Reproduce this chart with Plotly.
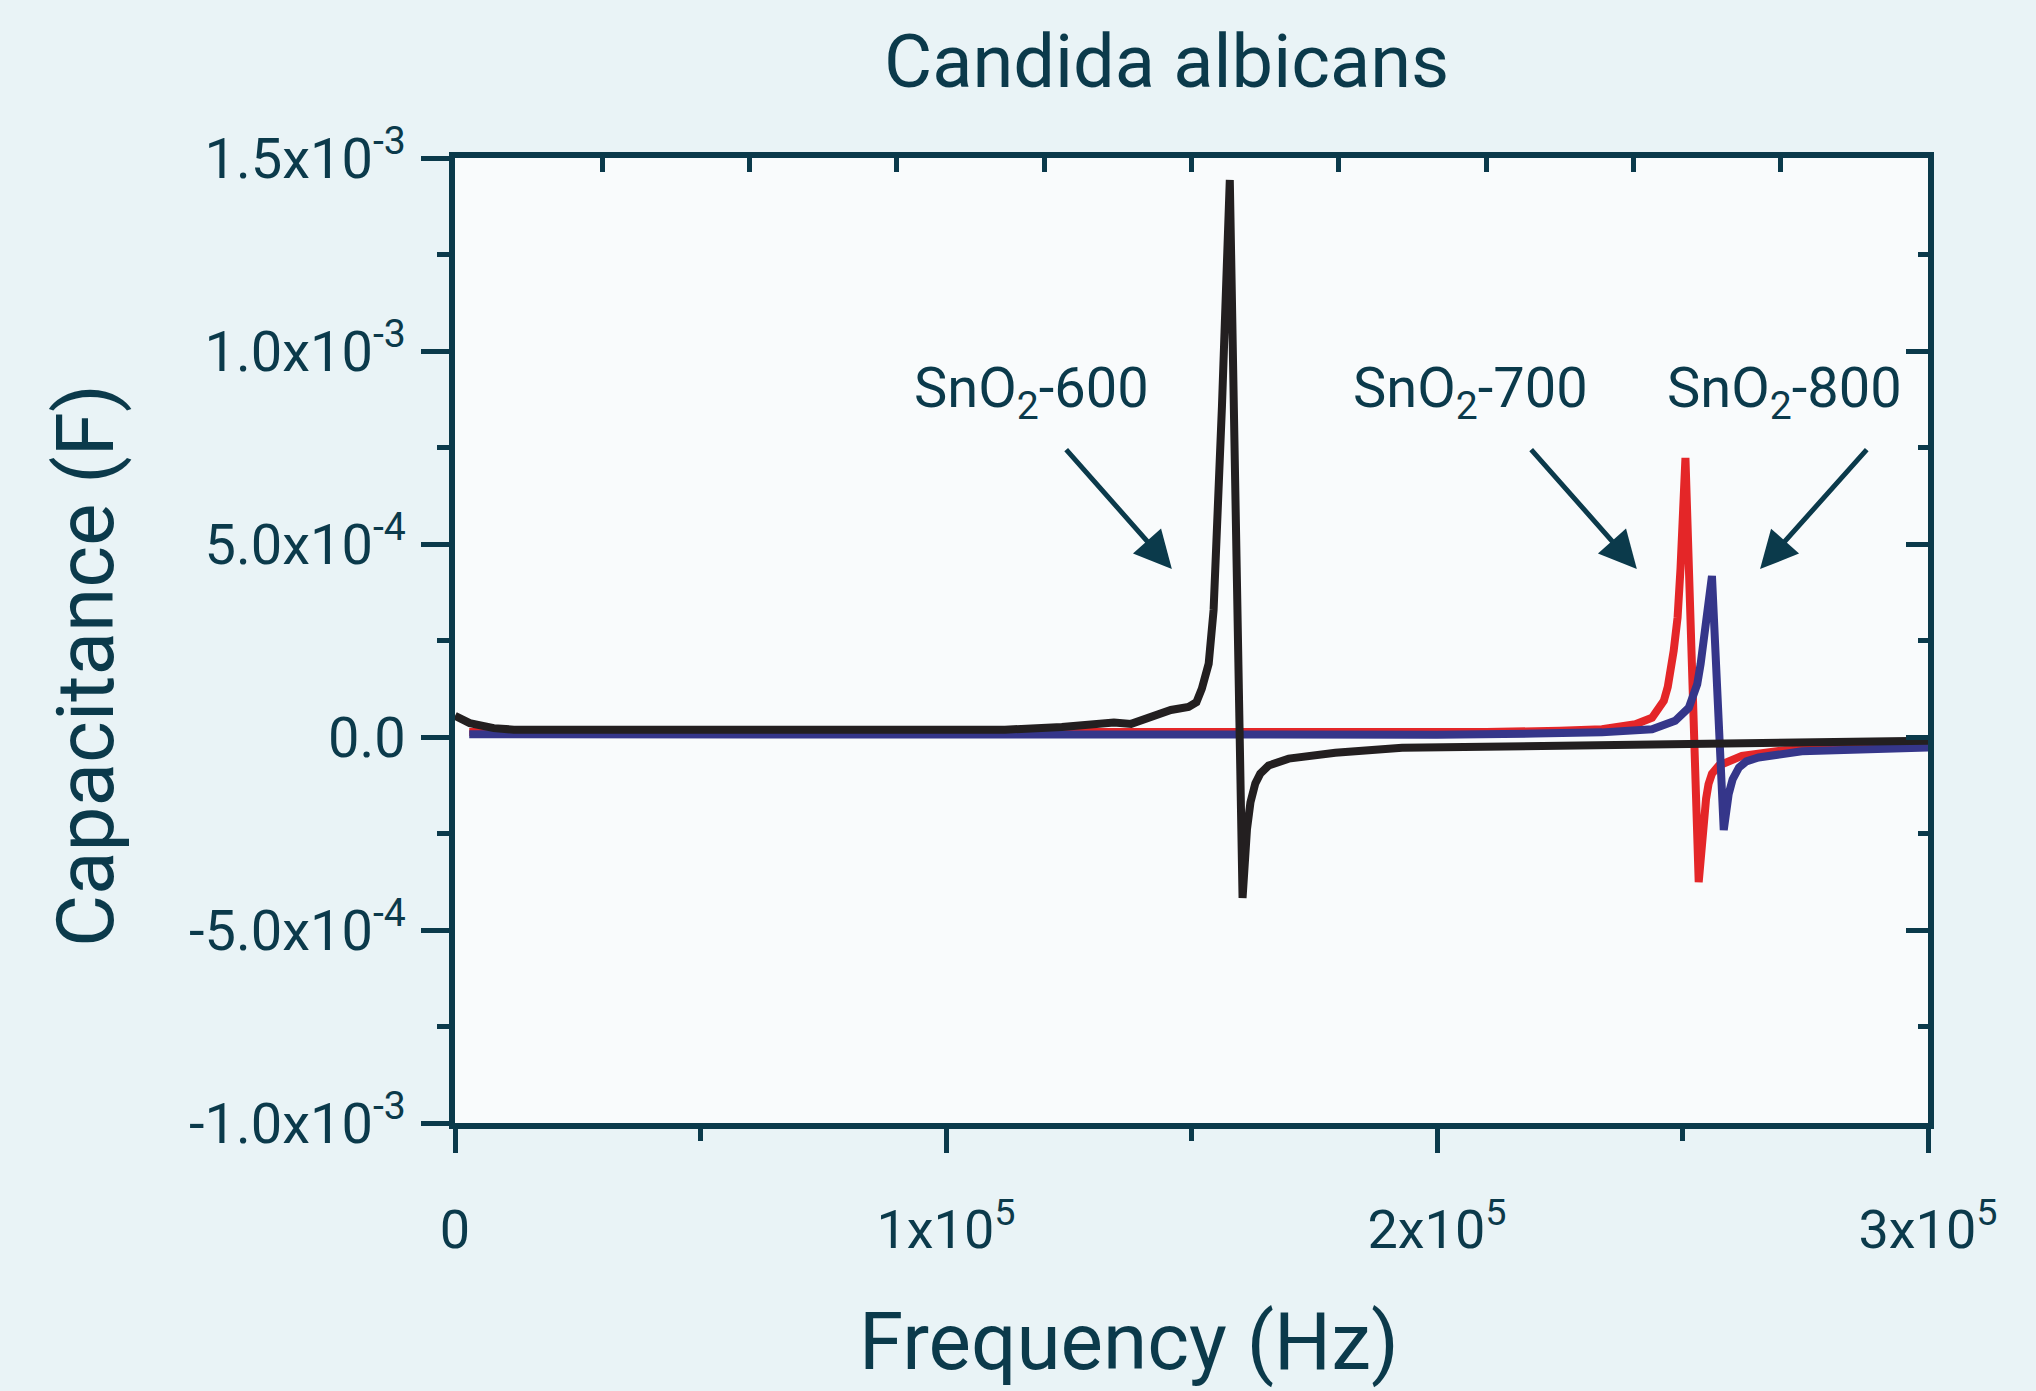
import plotly.graph_objects as go

# ---------------- data ----------------
black_x = [0, 3e3, 7.9e3, 1.2e4, 5e4, 1e5, 1.12e5, 1.236e5, 1.342e5, 1.377e5, 1.411e5,
           1.458e5, 1.494e5, 1.51e5, 1.521e5, 1.535e5, 1.545e5, 1.555e5, 1.562e5,
           1.571e5, 1.578e5, 1.604e5, 1.608e5, 1.613e5, 1.62e5, 1.63e5, 1.64e5, 1.657e5,
           1.698e5, 1.793e5, 1.929e5, 2.1e5, 2.336e5, 2.6e5, 2.8e5, 3.0e5]
black_y = [5.5e-5, 3.6e-5, 2.3e-5, 1.9e-5, 1.86e-5, 1.86e-5, 1.9e-5, 2.6e-5, 3.75e-5, 3.4e-5, 5.0e-5,
           7.0e-5, 7.8e-5, 9.0e-5, 1.25e-4, 1.9e-4, 3.29e-4, 5.93e-4, 8.56e-4,
           1.186e-3, 1.443e-3, -4.17e-4, -3.3e-4, -2.39e-4, -1.7e-4, -1.2e-4, -9.5e-5, -7.4e-5,
           -5.6e-5, -4.1e-5, -2.8e-5, -2.5e-5, -2.3e-5, -1.8e-5, -1.4e-5, -1.0e-5]

red_x = [2.9e3, 5e4, 1e5, 1.5e5, 1.9e5, 2.1e5, 2.25e5, 2.336e5, 2.404e5, 2.438e5, 2.462e5,
         2.47e5, 2.482e5, 2.49e5, 2.496e5, 2.502e5, 2.506e5, 2.533e5, 2.538e5, 2.543e5,
         2.548e5, 2.553e5, 2.56e5, 2.574e5, 2.621e5, 2.709e5, 2.85e5, 3.0e5]
red_y = [1.3e-5, 1.2e-5, 1.1e-5, 1.0e-5, 1.1e-5, 1.3e-5, 1.6e-5, 2.0e-5, 3.3e-5, 5.0e-5, 9.4e-5,
         1.3e-4, 2.23e-4, 3.1e-4, 4.38e-4, 5.8e-4, 7.23e-4, -3.76e-4, -2.9e-4, -2.08e-4,
         -1.6e-4, -1.22e-4, -9.5e-5, -7.4e-5, -4.9e-5, -3.4e-5, -2.7e-5, -2.3e-5]

blue_x = [2.9e3, 5e4, 1e5, 1.5e5, 2e5, 2.2e5, 2.336e5, 2.438e5, 2.485e5, 2.513e5, 2.52e5,
          2.53e5, 2.537e5, 2.543e5, 2.55e5, 2.56e5, 2.584e5, 2.589e5, 2.594e5, 2.602e5,
          2.615e5, 2.63e5, 2.655e5, 2.743e5, 2.87e5, 3.0e5]
blue_y = [7e-6, 6e-6, 6e-6, 5e-6, 6e-6, 9e-6, 1.2e-5, 2.0e-5, 4.2e-5, 7.6e-5, 1.0e-4,
          1.37e-4, 1.9e-4, 2.49e-4, 3.3e-4, 4.17e-4, -2.41e-4, -1.9e-4, -1.48e-4, -1.1e-4,
          -7.9e-5, -6.3e-5, -5.3e-5, -3.7e-5, -3.0e-5, -2.7e-5]

x_tickvals = [0, 1e5, 2e5, 3e5]
x_ticktext = ["0", "1x10<sup>5</sup>", "2x10<sup>5</sup>", "3x10<sup>5</sup>"]
y_tickvals = [-1e-3, -5e-4, 0, 5e-4, 1e-3, 1.5e-3]
y_ticktext = ["-1.0x10<sup>-3</sup>", "-5.0x10<sup>-4</sup>", "0.0",
              "5.0x10<sup>-4</sup>", "1.0x10<sup>-3</sup>", "1.5x10<sup>-3</sup>"]
top_tickvals = [3e4, 6e4, 9e4, 1.2e5, 1.5e5, 1.8e5, 2.1e5, 2.4e5, 2.7e5]

labels = ["SnO<sub>2</sub>-600", "SnO<sub>2</sub>-700", "SnO<sub>2</sub>-800"]
label_x = [1.175e5, 2.069e5, 2.707e5]
label_y = [8.95e-4, 8.95e-4, 8.95e-4]
arrow_x = [1.460e5, 2.407e5, 2.658e5]
arrow_y = [4.35e-4, 4.35e-4, 4.35e-4]
arrow_dx = [-107, -107, 108]
arrow_dy = [-121, -121, -121]

# ---------------- style ----------------
INK = "#0b3a4b"
FONT = "Roboto"
PAPER = "#e9f3f6"

fig = go.Figure()
fig.add_trace(go.Scatter(x=red_x, y=red_y, mode="lines", line=dict(color="#e42628", width=8),
                         showlegend=False))
fig.add_trace(go.Scatter(x=blue_x, y=blue_y, mode="lines", line=dict(color="#35368a", width=8),
                         showlegend=False))
fig.add_trace(go.Scatter(x=black_x, y=black_y, mode="lines", line=dict(color="#231f20", width=8),
                         showlegend=False))
# helper trace for the mirrored top/right axes
fig.add_trace(go.Scatter(x=[], y=[], xaxis="x2", yaxis="y2", showlegend=False))

annotations = []
for t, x, y in zip(labels, label_x, label_y):
    annotations.append(dict(x=x, y=y, xref="x", yref="y", text=t, showarrow=False,
                            font=dict(family=FONT, size=56, color=INK),
                            xanchor="center", yanchor="middle"))
for x, y, dx, dy in zip(arrow_x, arrow_y, arrow_dx, arrow_dy):
    annotations.append(dict(x=x, y=y, xref="x", yref="y", text="", showarrow=True,
                            ax=dx, ay=dy, arrowhead=2, arrowsize=1.5, arrowwidth=5,
                            arrowcolor=INK, standoff=0))
annotations.append(dict(text="Capacitance (F)", x=-0.2505, y=0.4736, xref="paper", yref="paper",
                        textangle=-90, showarrow=False, xanchor="center", yanchor="middle",
                        font=dict(family=FONT, size=80, color=INK)))
annotations.append(dict(text="Frequency (Hz)", x=0.4576, y=-0.2265, xref="paper", yref="paper",
                        showarrow=False, xanchor="center", yanchor="middle",
                        font=dict(family=FONT, size=80, color=INK)))

fig.update_layout(
    width=2036, height=1391,
    margin=dict(l=455, r=108, t=158, b=268, pad=0),
    paper_bgcolor=PAPER,
    plot_bgcolor="#f9fbfc",
    title=dict(text="Candida albicans", x=0.573, xanchor="center", y=0.956, yanchor="middle",
               font=dict(family=FONT, size=74, color=INK)),
    annotations=annotations,
    xaxis=dict(range=[0, 3e5], tickvals=x_tickvals, ticktext=x_ticktext,
               ticks="outside", ticklen=24, tickwidth=4.5, tickcolor=INK,
               minor=dict(tickvals=[5e4, 1.5e5, 2.5e5], ticks="outside", ticklen=12,
                          tickwidth=4.5, tickcolor=INK),
               showline=True, linewidth=6, linecolor=INK, showgrid=False, zeroline=False,
               tickfont=dict(family=FONT, size=54, color=INK), ticklabelstandoff=30),
    yaxis=dict(range=[-1e-3, 1.5e-3], tickvals=y_tickvals, ticktext=y_ticktext,
               ticks="outside", ticklen=28, tickwidth=4.5, tickcolor=INK,
               minor=dict(dtick=2.5e-4, tick0=0, ticks="outside", ticklen=12,
                          tickwidth=4.5, tickcolor=INK),
               showline=True, linewidth=6, linecolor=INK, showgrid=False, zeroline=False,
               tickfont=dict(family=FONT, size=56, color=INK), ticklabelstandoff=4),
    xaxis2=dict(range=[0, 3e5], overlaying="x", side="top", anchor="y",
                tickvals=top_tickvals, ticks="inside", ticklen=14, tickwidth=4.5, tickcolor=INK,
                showticklabels=False, showline=True, linewidth=6, linecolor=INK,
                showgrid=False, zeroline=False),
    yaxis2=dict(range=[-1e-3, 1.5e-3], overlaying="y", side="right", anchor="x",
                tickvals=y_tickvals, ticks="inside", ticklen=22, tickwidth=4.5, tickcolor=INK,
                minor=dict(dtick=2.5e-4, tick0=0, ticks="inside", ticklen=10,
                           tickwidth=4.5, tickcolor=INK),
                showticklabels=False, showline=True, linewidth=6, linecolor=INK,
                showgrid=False, zeroline=False),
)

fig.write_html("out.html", config={"displayModeBar": False},
               post_script="document.body.style.margin='0';"
                           "document.body.style.background='" + PAPER + "';")
